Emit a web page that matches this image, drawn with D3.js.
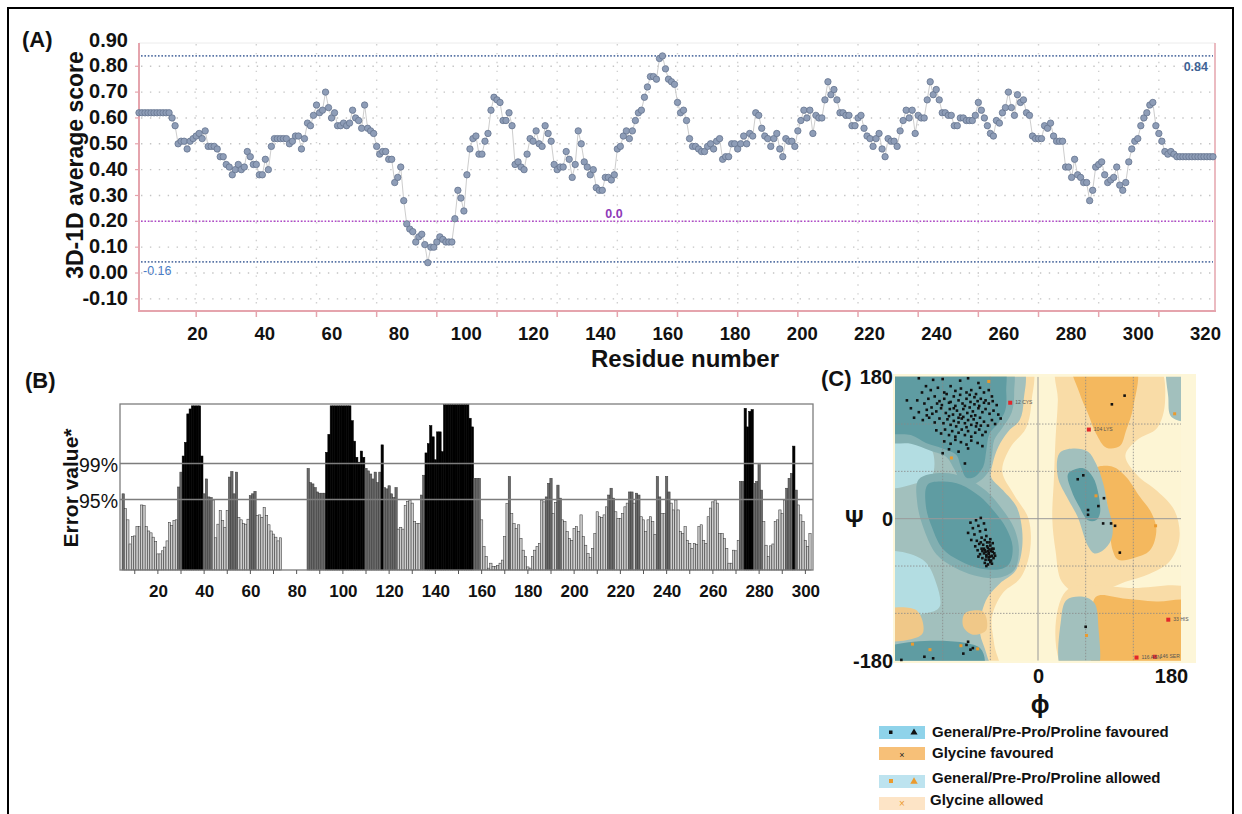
<!DOCTYPE html>
<html><head><meta charset="utf-8">
<script src="https://cdn.jsdelivr.net/npm/d3@7/dist/d3.min.js"></script>
<style>html,body{margin:0;padding:0;background:#fff;}svg{display:block;}</style>
</head><body>
<svg id="fig" width="1242" height="814"></svg>
<script>
// ================= Panel A data (Verify3D 3D-1D averaged score) =================
const score3D1D = [
0.62,0.62,0.62,0.62,0.62,0.62,0.62,0.62,0.62,0.62,0.62,
0.60,0.57,0.50,0.51,0.51,0.48,0.51,0.52,0.53,0.54,
0.52,0.55,0.49,0.49,0.49,0.48,0.45,0.45,0.42,0.41,
0.38,0.40,0.42,0.40,0.41,0.47,0.45,0.42,0.42,0.38,
0.38,0.44,0.40,0.49,0.52,0.52,0.52,0.52,0.52,0.50,
0.51,0.53,0.53,0.48,0.52,0.58,0.57,0.61,0.65,0.62,
0.63,0.70,0.64,0.60,0.62,0.57,0.57,0.58,0.57,0.58,
0.63,0.60,0.59,0.56,0.65,0.56,0.55,0.54,0.49,0.46,
0.47,0.47,0.44,0.44,0.35,0.37,0.41,0.28,0.19,0.17,
0.16,0.12,
0.14,0.15,0.11,0.04,0.10,0.10,0.12,0.14,0.13,0.12,
0.12,0.12,0.21,0.32,0.29,0.24,0.38,0.48,0.52,0.53,
0.46,0.46,0.51,0.54,0.63,0.68,0.67,0.66,0.59,0.59,
0.62,0.57,0.42,0.43,0.41,0.40,0.46,0.52,0.51,0.55,
0.50,0.49,0.57,0.54,0.51,0.42,0.40,0.41,0.41,0.47,
0.44,0.37,0.42,0.55,0.50,0.43,0.41,0.38,0.40,0.33,
0.32,0.32,0.37,0.37,0.36,0.38,0.48,0.49,0.53,0.55,
0.52,0.55,0.59,0.62,0.63,0.68,0.72,0.76,0.76,0.75,
0.83,0.84,0.79,0.75,0.74,0.73,0.66,0.62,0.63,
0.59,0.52,0.49,0.49,0.48,0.47,0.47,0.49,0.50,0.48,
0.51,0.52,0.44,0.45,0.45,0.50,0.50,0.48,0.50,0.53,
0.50,0.54,0.53,0.62,0.61,0.56,0.53,0.52,0.49,0.52,
0.54,0.48,0.45,0.52,0.51,0.51,0.49,0.55,0.59,0.63,
0.60,0.63,0.54,0.61,0.60,0.60,0.67,0.74,0.69,0.71,
0.67,0.62,0.62,0.61,0.61,0.57,0.57,0.60,0.61,0.56,
0.53,0.52,0.49,0.52,0.54,0.48,0.45,0.52,0.51,0.51,
0.49,0.55,0.59,0.63,0.60,0.63,0.54,0.61,0.60,0.60,
0.67,0.74,0.69,0.71,0.67,0.62,0.62,0.61,0.61,0.57,
0.57,0.60,0.60,0.59,0.59,0.59,0.61,0.66,0.63,0.60,
0.57,0.54,0.53,0.59,0.58,0.62,0.64,0.70,0.64,0.61,
0.69,0.66,0.67,0.62,0.61,0.53,0.52,0.52,0.52,0.57,
0.56,0.58,0.53,0.51,0.51,0.51,0.41,0.41,0.37,0.44,
0.38,0.37,0.35,0.35,0.28,0.32,0.41,0.42,0.43,0.38,
0.35,0.36,0.37,0.41,0.34,0.32,0.35,0.43,0.48,0.51,
0.52,0.57,0.60,0.62,0.65,0.66,0.57,0.54,0.51,0.47,
0.46,0.47,0.46,0.45,0.45,0.45,0.45,0.45,0.45,0.45,
0.45,0.45,0.45,0.45,0.45,0.45
];
const yTicksA = [-0.10,0.00,0.10,0.20,0.30,0.40,0.50,0.60,0.70,0.80,0.90];
const xLabelsA = [20,40,60,80,100,120,140,160,180,200,220,240,260,280,300,320];
const gridResiduesA = [20,40,60,80,100,120,140,160,180,200,220,240,260,280,300,320,340];
const refHigh = 0.84, refPass = 0.20, refLow = 0.043;
const refHighLabel = "0.84", refPassLabel = "0.0", refLowLabel = "-0.16";

// ================= Panel B data (ERRAT error values) =================
const firstResidueB = 5;
const errorValueB = [
12.3,9.9,8.1,4.2,5.4,5.5,7.0,7.0,10.5,10.4,
7.0,6.3,6.0,5.3,4.6,2.6,2.6,3.1,3.7,4.7,
7.7,7.2,8.0,8.1,13.4,15.8,18.4,20.6,25.2,26.0,
26.5,26.5,26.5,26.5,18.4,12.3,14.7,11.8,11.7,11.3,
5.2,7.4,9.6,8.0,6.9,9.6,15.0,15.9,12.3,15.8,
8.5,8.1,7.5,7.4,8.2,12.0,12.3,12.7,8.8,8.9,
8.5,10.1,8.8,7.3,6.3,5.8,5.3,4.7,5.2,0,
0,0,0,0,0,0,0,0,0,0,
16.4,14.1,13.9,13.3,12.6,12.4,12.4,12.4,19.0,21.9,
26.5,26.5,26.5,26.5,26.5,26.5,26.5,26.5,26.5,
24.1,20.8,18.2,17.4,19.2,18.2,16.4,16.0,15.5,14.7,
15.8,14.1,15.8,20.2,13.3,13.1,13.6,12.3,11.7,13.3,
6.6,6.9,6.6,
10.4,11.1,11.3,10.8,7.8,7.5,7.5,12.1,15.3,
18.9,20.4,23.3,21.5,17.8,22.3,22.3,19.1,
26.7,26.7,26.7,26.7,26.7,26.7,26.7,26.7,26.7,26.7,26.7,
24.5,23.1,
14.8,14.8,14.8,8.1,3.8,2.2,0.3,1.1,0.6,0.6,
0.7,1.1,1.6,5.4,10.7,15.1,9.1,7.5,6.7,7.3,
5.1,3.2,2.2,0.5,0.3,2.2,3.2,3.8,4.3,11.3,
11.0,11.8,14.0,14.8,9.1,10.9,13.7,11.6,8.1,7.8,
6.2,5.1,4.8,6.7,7.0,6.2,8.9,5.4,4.0,2.7,
2.0,3.5,5.9,9.4,8.6,8.5,8.9,10.2,12.1,13.2,
11.6,9.4,8.3,8.3,9.1,10.2,10.8,12.6,12.6,10.8,
12.4,12.1,8.6,8.1,6.2,8.1,8.6,7.8,5.7,15.1,
11.8,9.1,9.1,15.1,12.6,10.8,9.7,11.3,9.7,6.2,
5.9,7.0,4.8,4.3,3.5,4.3,4.1,7.0,7.3,4.8,
4.3,8.6,10.0,11.0,11.3,10.8,5.9,5.9,5.1,3.5,
1.1,1.1,3.2,3.1,4.8,14.3,14.3,26.1,23.1,25.6,
25.9,14.0,14.3,17.0,12.9,7.8,4.0,2.2,3.9,4.2,
7.8,8.1,9.7,9.1,11.3,13.2,14.8,15.6,20.0,12.9,
10.5,8.9,7.8,4.8,3.8,5.9
];
const conf95 = 11.38, conf99 = 17.19;
const confLabel95 = "95%", confLabel99 = "99%";
const xLabelsB = [20,40,60,80,100,120,140,160,180,200,220,240,260,280,300];
const minorTicksB = [10,20,30,40,50,60,70,80,90,100,110,120,130,140,150,160,170,180,190,200,210,220,230,240,250,260,270,280,290,300];

// ================= Panel C data (Ramachandran plot), degrees [phi, psi] =================
const psiLabels = [180, 0, -180];
const phiLabels = [0, 180];
const gridAnglesSolid = [0];
const gridAnglesDotted = [-120, -60, 60, 120];
const glyAllowedRegions = [
  [[-195,195],[-10,195],[-8,150],[-15,115],[-35,90],[-45,60],[-30,30],[-12,0],[-10,-40],[-22,-75],[-45,-95],[-58,-125],[-55,-160],[-50,-195],[-195,-195]],
  [[25,195],[150,195],[160,150],[150,115],[125,100],[110,80],[125,55],[150,35],[172,10],[178,-25],[165,-55],[140,-70],[110,-80],[80,-92],[50,-95],[30,-80],[22,-40],[18,0],[20,50],[22,100],[25,150]],
  [[35,-92],[120,-88],[195,-92],[195,-195],[35,-195]]
];
const glyFavouredRegions = [
  [[44,195],[122,195],[120,142],[111,112],[103,92],[86,90],[73,108],[63,133],[52,160]],
  [[73,64],[94,66],[111,53],[128,28],[143,7],[149,-14],[141,-40],[120,-50],[101,-52],[94,-40],[90,-10],[86,24],[80,45]],
  [[73,-99],[107,-101],[149,-105],[195,-107],[195,-195],[73,-195],[69,-141]]
];
const glyFavouredLeftPatches = [
  [[-92,-120],[-69,-118],[-65,-141],[-82,-147],[-94,-137]],
  [[-195,-118],[-153,-116],[-145,-145],[-166,-154],[-195,-152]]
];
const allowedRegions = [
  [[-195,195],[-21,195],[-18,150],[-23,125],[-38,110],[-50,91],[-57,70],[-59,53],[-44,36],[-27,15],[-20,-14],[-21,-44],[-29,-67],[-48,-82],[-63,-99],[-71,-120],[-73,-145],[-65,-171],[-61,-195],[-195,-195]],
  [[164,195],[195,195],[195,125],[168,129],[164,154]],
  [[27,83],[44,89],[63,85],[73,70],[82,45],[88,15],[94,-10],[92,-27],[82,-40],[71,-44],[63,-35],[57,-19],[50,2],[36,28],[25,53]],
  [[36,-103],[57,-99],[71,-107],[76,-137],[73,-195],[31,-195],[29,-128]]
];
const lightBlueRegions = [
  [[-195,112],[-149,106],[-132,83],[-134,53],[-153,45],[-195,41]],
  [[-195,-44],[-145,-52],[-128,-82],[-124,-112],[-141,-120],[-195,-120]]
];
const midFavouredRegions = [
  [[-195,195],[-35,195],[-30,160],[-33,135],[-45,115],[-55,100],[-58,80],[-62,60],[-78,45],[-95,45],[-105,62],[-115,78],[-135,86],[-160,95],[-195,100]],
  [[-150,50],[-120,58],[-92,52],[-65,35],[-45,12],[-30,-12],[-24,-40],[-30,-65],[-50,-75],[-80,-72],[-105,-62],[-128,-45],[-143,-15],[-152,20]]
];
const favouredRegions = [
  [[-195,195],[-45,195],[-40,161],[-41,138],[-50,121],[-61,108],[-65,87],[-69,66],[-80,53],[-90,52],[-97,66],[-103,81],[-120,89],[-141,96],[-160,106],[-195,112]],
  [[-139,43],[-120,47],[-97,43],[-73,28],[-55,9],[-40,-12],[-32,-35],[-36,-57],[-48,-64],[-73,-63],[-99,-53],[-120,-38],[-133,-12],[-141,15]],
  [[-195,-166],[-73,-164],[-71,-195],[-195,-195]],
  [[38,57],[57,64],[69,53],[76,32],[78,7],[73,-2],[63,-2],[52,15],[42,36]]
];
const betaResidues = [
[-150,178],[-132,176],[-120,177],[-98,175],[-88,178],[-75,172],[-141,168],[-135,163],[-126,166],[-118,160],
[-110,168],[-104,162],[-97,165],[-90,160],[-84,163],[-78,158],[-73,166],[-68,160],[-62,163],[-58,155],
[-146,160],[-152,150],[-143,146],[-138,152],[-130,155],[-124,149],[-118,152],[-112,147],[-106,155],[-100,150],
[-95,146],[-90,152],[-85,148],[-80,154],[-76,149],[-72,152],[-66,150],[-62,146],[-57,149],[-52,144],
[-160,140],[-150,135],[-140,138],[-134,141],[-128,136],[-122,140],[-116,134],[-111,139],[-107,132],[-102,137],
[-98,132],[-94,139],[-89,134],[-86,141],[-82,136],[-79,131],[-75,140],[-70,135],[-66,139],[-61,133],
[-56,137],[-50,132],[-145,125],[-137,128],[-130,122],[-124,127],[-119,121],[-114,126],[-110,119],[-106,124],
[-103,117],[-100,122],[-96,127],[-92,121],[-88,125],[-84,119],[-81,126],[-77,121],[-73,128],[-68,123],
[-63,118],[-58,125],[-54,120],[-47,127],[-128,112],[-122,108],[-117,113],[-112,106],[-108,111],[-104,104],
[-100,109],[-96,113],[-92,106],[-88,111],[-84,104],[-79,109],[-74,113],[-70,106],[-66,110],[-118,98],
[-110,95],[-104,100],[-97,97],[-90,94],[-84,99],[-76,96],[-112,88],[-100,85],[-120,83],[-88,89],
[-70,92],[-110,148],[-104,143],[-98,157],[-92,143],[-86,157],[-80,145],[-74,143],[-68,147],[-115,158],
[-121,144],[-127,146],[-133,133],[-140,131],[-94,129],[-90,116],[-100,128],[-106,140],[-112,130],[-84,130],
[-78,117],[-72,118],[-165,150],[-156,128],[-92,70]
];
const alphaResidues = [
[-85,-5],[-78,-2],[-72,1],[-82,-12],[-75,-9],[-68,-6],[-88,-18],[-80,-20],[-73,-16],[-66,-14],
[-84,-27],[-77,-28],[-71,-24],[-65,-22],[-60,-26],[-79,-35],[-74,-32],[-69,-33],[-64,-30],[-60,-34],
[-57,-31],[-76,-40],[-71,-38],[-67,-40],[-63,-37],[-59,-41],[-56,-38],[-73,-45],[-68,-44],[-65,-46],
[-62,-43],[-58,-47],[-55,-44],[-70,-50],[-66,-52],[-62,-49],[-59,-53],[-56,-50],[-67,-56],[-63,-58],
[-60,-55],[-64,-35],[-61,-39],[-66,-42],[-62,-45],[-68,-38],[-58,-38],[-63,-41],[-60,-48],[-65,-48],
[-70,-41],[-57,-42],[-61,-30],[-67,-27],[-72,-30],[-75,-48],[-62,-52],[-58,-57],[-65,-60],[-54,-47]
];
const otherResidues = [
[50,50],[57,55],[63,11],[63,5],[76,16],[83,26],[82,-6],[92,-6],[97,-9],[103,-43],
[93,145],[109,156],[60,-137],[-88,-156],[-85,-166],[-82,-164],[-94,-171],[-132,-177],[-143,-175],[-172,-179],[-90,-160]
];
const allowedResidues = [
[-62,174],[-109,77],[73,29],[148,-9],[172,133],[-158,-159],[-136,-166],[-97,-161],[-76,-165],[61,-148]
];
const outlierResidues = [
{phi:-35, psi:147, label:"12 CYS"},
{phi:64, psi:113, label:"104 LYS"},
{phi:164, psi:-128, label:"33 HIS"},
{phi:124, psi:-176, label:"116 ASN"},
{phi:147, psi:-175, label:"146 SER"}
];
const legendLabels = ["General/Pre-Pro/Proline favoured","Glycine favoured","General/Pre-Pro/Proline allowed","Glycine allowed"];

// ================= Drawing =================
const FONT = "Arial, 'Liberation Sans', Helvetica, sans-serif";
const svg = d3.select("#fig").attr("font-family", FONT);

// outer frame
svg.append("rect").attr("x",8).attr("y",8).attr("width",1225).attr("height",830)
  .attr("fill","none").attr("stroke","#000").attr("stroke-width",2);

// ---------- Panel A ----------
const gA = svg.append("g");
const xA = d3.scaleLinear().domain([1, score3D1D.length]).range([139, 1213]);
const yA = d3.scaleLinear().domain([-0.147, 0.89]).range([311, 43]);
const xLabA = d3.scaleLinear().domain([20, 320]).range([197, 1205]);

gA.append("line").attr("x1",139).attr("x2",1215).attr("y1",43).attr("y2",43).attr("stroke","#ececec");
gA.selectAll(".hg").data(yTicksA.filter(v => yA(v) > 45)).join("line")
  .attr("x1",141).attr("x2",1213).attr("y1",d=>yA(d)).attr("y2",d=>yA(d))
  .attr("stroke","#c4c4c4").attr("stroke-width",1.4).attr("stroke-dasharray","1.4,7.5");
gA.selectAll(".vg").data(gridResiduesA.filter(r => xA(r) < 1212)).join("line")
  .attr("x1",d=>xA(d)).attr("x2",d=>xA(d)).attr("y1",44).attr("y2",310)
  .attr("stroke","#d0d0d0").attr("stroke-width",1.4).attr("stroke-dasharray","1.4,7.5");

function refLine(v, col){
  gA.append("line").attr("x1",141).attr("x2",1213).attr("y1",yA(v)).attr("y2",yA(v))
    .attr("stroke",col).attr("stroke-width",1.6).attr("stroke-dasharray","1.6,1.8");
}
refLine(refHigh, "#5a75a6");
refLine(refLow, "#5a75a6");
refLine(refPass, "#b048c8");
gA.append("text").attr("x",1208).attr("y",yA(refHigh)+15).attr("text-anchor","end")
  .attr("font-size",12.5).attr("fill","#3e6294").attr("font-weight","bold").text(refHighLabel);
gA.append("text").attr("x",614).attr("y",yA(refPass)-3).attr("text-anchor","middle")
  .attr("font-size",12.5).attr("fill","#8e3ab8").attr("font-weight","bold").text(refPassLabel);
gA.append("text").attr("x",143).attr("y",yA(refLow)+13)
  .attr("font-size",12.5).attr("fill","#4a7cc4").text(refLowLabel);

const pink = "#e5a4ad";
gA.append("line").attr("x1",139).attr("x2",139).attr("y1",43).attr("y2",311).attr("stroke",pink).attr("stroke-width",2);
gA.append("line").attr("x1",1215).attr("x2",1215).attr("y1",43).attr("y2",311).attr("stroke",pink).attr("stroke-width",1.5);
gA.append("line").attr("x1",138).attr("x2",1216).attr("y1",311).attr("y2",311).attr("stroke",pink).attr("stroke-width",2.2);
gA.selectAll(".bt").data(gridResiduesA.filter(r => xA(r) < 1212)).join("line")
  .attr("x1",d=>xA(d)).attr("x2",d=>xA(d)).attr("y1",311).attr("y2",317).attr("stroke",pink).attr("stroke-width",1.5);
gA.selectAll(".lt").data(yTicksA.filter(v => yA(v) > 45)).join("line")
  .attr("x1",135).attr("x2",139).attr("y1",d=>yA(d)).attr("y2",d=>yA(d)).attr("stroke",pink).attr("stroke-width",1.2);

gA.append("path").datum(score3D1D)
  .attr("d", d3.line().x((d,i)=>xA(i+1)).y(d=>yA(d)))
  .attr("fill","none").attr("stroke","#cdcdcd").attr("stroke-width",1);
gA.selectAll(".pt").data(score3D1D).join("circle")
  .attr("cx",(d,i)=>xA(i+1)).attr("cy",d=>yA(d)).attr("r",3.2)
  .attr("fill","#8e9db7").attr("stroke","#66758f").attr("stroke-width",0.8);

const axYA = gA.append("g").attr("transform","translate(139,0)")
  .call(d3.axisLeft(yA).tickValues(yTicksA).tickFormat(d=>d.toFixed(2)).tickSize(0).tickPadding(11));
axYA.select(".domain").remove();
axYA.selectAll("text").attr("font-size",20).attr("font-weight","bold").attr("fill","#111")
  .attr("font-family",FONT).attr("dy","0.28em");

const axXA = gA.append("g").attr("transform","translate(0,327)")
  .call(d3.axisBottom(xLabA).tickValues(xLabelsA).tickSize(0).tickPadding(0));
axXA.select(".domain").remove();
axXA.selectAll("text").attr("font-size",18.5).attr("font-weight","bold").attr("fill","#111").attr("font-family",FONT);

gA.append("text").attr("transform","translate(83,165) rotate(-90)").attr("text-anchor","middle")
  .attr("font-size",23).attr("font-weight","bold").attr("fill","#111").text("3D-1D average score");
gA.append("text").attr("x",685).attr("y",367).attr("text-anchor","middle")
  .attr("font-size",24).attr("font-weight","bold").attr("fill","#111").text("Residue number");
gA.append("text").attr("x",22).attr("y",47).attr("font-size",22).attr("font-weight","bold").attr("fill","#111").text("(A)");

// ---------- Panel B ----------
const gB = svg.append("g");
const xB = d3.scaleLinear().domain([firstResidueB, firstResidueB + errorValueB.length - 1]).range([123.2, 810]);
const yB = d3.scaleLinear().domain([0, 26.8]).range([570, 404]);
const bw = (xB(firstResidueB+1) - xB(firstResidueB));
const barsB = errorValueB.map((v,i)=>({r:firstResidueB+i, v}));
gB.selectAll(".bar").data(barsB.filter(d=>d.v>0)).join("rect")
  .attr("x",d=>xB(d.r)-bw/2).attr("width",bw)
  .attr("y",d=>yB(d.v)).attr("height",d=>yB(0)-yB(d.v))
  .attr("fill",d=> d.v>=conf99 ? "#000" : (d.v>=conf95 ? "#6a6a6a" : "#cdcdcd"))
  .attr("stroke",d=> d.v>=conf99 ? "#000" : "#3c3c3c").attr("stroke-width",0.55);
[conf95, conf99].forEach(c=>{
  gB.append("line").attr("x1",120).attr("x2",813).attr("y1",yB(c)).attr("y2",yB(c))
    .attr("stroke","#7d7d7d").attr("stroke-width",1.3);
});
gB.append("rect").attr("x",120).attr("y",404).attr("width",693).attr("height",166)
  .attr("fill","none").attr("stroke","#7d7d7d").attr("stroke-width",1.3);
gB.selectAll(".mt").data(minorTicksB).join("line")
  .attr("x1",d=>xB(d)).attr("x2",d=>xB(d)).attr("y1",570).attr("y2",574).attr("stroke","#555").attr("stroke-width",1);
const axXB = gB.append("g").attr("transform","translate(0,585)")
  .call(d3.axisBottom(xB).tickValues(xLabelsB).tickSize(0).tickPadding(0));
axXB.select(".domain").remove();
axXB.selectAll("text").attr("font-size",17).attr("font-weight","bold").attr("fill","#111").attr("font-family",FONT);
gB.append("text").attr("x",118).attr("y",yB(conf99)+8).attr("text-anchor","end").attr("font-size",19.5).attr("fill","#111").text(confLabel99);
gB.append("text").attr("x",118).attr("y",yB(conf95)+8).attr("text-anchor","end").attr("font-size",19.5).attr("fill","#111").text(confLabel95);
gB.append("text").attr("transform","translate(78,488) rotate(-90)").attr("text-anchor","middle")
  .attr("font-size",21).attr("font-weight","bold").attr("fill","#111").text("Error value*");
gB.append("text").attr("x",25).attr("y",388).attr("font-size",22).attr("font-weight","bold").attr("fill","#111").text("(B)");

// ---------- Panel C ----------
const gC = svg.append("g");
const xR = d3.scaleLinear().domain([-180,180]).range([895,1181]);
const yR = d3.scaleLinear().domain([-180,180]).range([660.7,376.7]);
svg.append("defs").append("clipPath").attr("id","ramaClip").append("rect")
  .attr("x",895).attr("y",376.7).attr("width",286).attr("height",284);
gC.append("rect").attr("x",893).attr("y",374).attr("width",303).attr("height",289).attr("fill","#fdf6d8");
const gRegions = gC.append("g").attr("clip-path","url(#ramaClip)");
gRegions.append("rect").attr("x",895).attr("y",376.7).attr("width",286).attr("height",284).attr("fill","#fdf5d4");
const shape = d3.line().x(d=>xR(d[0])).y(d=>yR(d[1])).curve(d3.curveCatmullRomClosed.alpha(0.5));
function drawRegions(list, col){
  gRegions.selectAll(null).data(list).join("path").attr("d",shape).attr("fill",col);
}
drawRegions(glyAllowedRegions, "#f9dca7");
drawRegions(glyFavouredRegions, "#f4b85e");
drawRegions(allowedRegions, "#a2c0bd");
drawRegions(lightBlueRegions, "#b3dde2");
drawRegions(glyFavouredLeftPatches, "#f0c888");
drawRegions(midFavouredRegions, "#82afb1");
drawRegions(favouredRegions, "#5f9ca2");

gRegions.selectAll(".gs").data(gridAnglesSolid).join("line")
  .attr("x1",d=>xR(d)).attr("x2",d=>xR(d)).attr("y1",376.7).attr("y2",660.7).attr("stroke","#999").attr("stroke-width",1);
gRegions.selectAll(".gs2").data(gridAnglesSolid).join("line")
  .attr("y1",d=>yR(d)).attr("y2",d=>yR(d)).attr("x1",895).attr("x2",1181).attr("stroke","#999").attr("stroke-width",1);
gRegions.selectAll(".gd").data(gridAnglesDotted).join("line")
  .attr("x1",d=>xR(d)).attr("x2",d=>xR(d)).attr("y1",376.7).attr("y2",660.7)
  .attr("stroke","#8a8a8a").attr("stroke-width",0.8).attr("stroke-dasharray","1.5,1.5");
gRegions.selectAll(".gd2").data(gridAnglesDotted).join("line")
  .attr("y1",d=>yR(d)).attr("y2",d=>yR(d)).attr("x1",895).attr("x2",1181)
  .attr("stroke","#8a8a8a").attr("stroke-width",0.8).attr("stroke-dasharray","1.5,1.5");

const sq = 2.6;
gC.selectAll(".rb").data(betaResidues.concat(alphaResidues, otherResidues)).join("rect")
  .attr("x",d=>xR(d[0])-sq/2).attr("y",d=>yR(d[1])-sq/2).attr("width",sq).attr("height",sq).attr("fill","#111");
gC.selectAll(".ra").data(allowedResidues).join("rect")
  .attr("x",d=>xR(d[0])-1.5).attr("y",d=>yR(d[1])-1.5).attr("width",3).attr("height",3).attr("fill","#eb9a2e");
gC.selectAll(".ro").data(outlierResidues).join("rect")
  .attr("x",d=>xR(d.phi)-2).attr("y",d=>yR(d.psi)-2).attr("width",4).attr("height",4).attr("fill","#e3262a");
gC.selectAll(".rl").data(outlierResidues).join("text")
  .attr("x",d=>xR(d.phi)+5).attr("y",d=>yR(d.psi)+1.5).attr("font-size",5).attr("fill","#555").text(d=>d.label);

const axYR = gC.append("g").attr("transform","translate(895,0)")
  .call(d3.axisLeft(yR).tickValues(psiLabels).tickFormat(d=>String(d)).tickSize(0).tickPadding(2));
axYR.select(".domain").remove();
axYR.selectAll("text").attr("font-size",20).attr("font-weight","bold").attr("fill","#111").attr("font-family",FONT);
const axXR = gC.append("g").attr("transform","translate(0,669)")
  .call(d3.axisBottom(xR).tickValues(phiLabels).tickFormat(d=>String(d)).tickSize(0).tickPadding(0));
axXR.select(".domain").remove();
axXR.selectAll("text").attr("font-size",20).attr("font-weight","bold").attr("fill","#111").attr("font-family",FONT)
  .attr("dx",(d)=> d===180 ? -10 : 0);
gC.append("text").attr("x",845).attr("y",527).attr("font-size",23).attr("font-weight","bold").attr("fill","#111").text("Ψ");
gC.append("text").attr("x",1040).attr("y",713).attr("text-anchor","middle").attr("font-size",25).attr("font-weight","bold").attr("fill","#111").text("ϕ");
gC.append("text").attr("x",821).attr("y",386).attr("font-size",22).attr("font-weight","bold").attr("fill","#111").text("(C)");

const legendRows = [
  {y:726, col:"#8fd3ea", ty:737, tx:932},
  {y:747, col:"#f7c078", ty:758, tx:932},
  {y:775, col:"#bde3ef", ty:783, tx:932},
  {y:797, col:"#fde4c6", ty:805, tx:930}
];
const gL = gC.append("g");
gL.selectAll(".sw").data(legendRows).join("rect")
  .attr("x",879).attr("y",d=>d.y).attr("width",46).attr("height",13).attr("fill",d=>d.col);
gL.selectAll(".lt").data(legendLabels).join("text")
  .attr("x",(d,i)=>legendRows[i].tx).attr("y",(d,i)=>legendRows[i].ty)
  .attr("font-size",15).attr("font-weight","bold").attr("fill","#111").text(d=>d);
gL.append("rect").attr("x",889).attr("y",730.5).attr("width",3.5).attr("height",3.5).attr("fill","#111");
gL.append("path").attr("d",d3.symbol(d3.symbolTriangle,22)()).attr("transform","translate(914,732.5)").attr("fill","#111");
gL.append("text").attr("x",902).attr("y",757.5).attr("text-anchor","middle").attr("font-size",9).attr("fill","#222").text("×");
gL.append("rect").attr("x",889).attr("y",779).attr("width",4).attr("height",4).attr("fill","#eb9a2e");
gL.append("path").attr("d",d3.symbol(d3.symbolTriangle,24)()).attr("transform","translate(914,781.5)").attr("fill","#eb9a2e");
gL.append("text").attr("x",902).attr("y",806.5).attr("text-anchor","middle").attr("font-size",10).attr("fill","#eb9a2e").text("×");
</script>
</body></html>
